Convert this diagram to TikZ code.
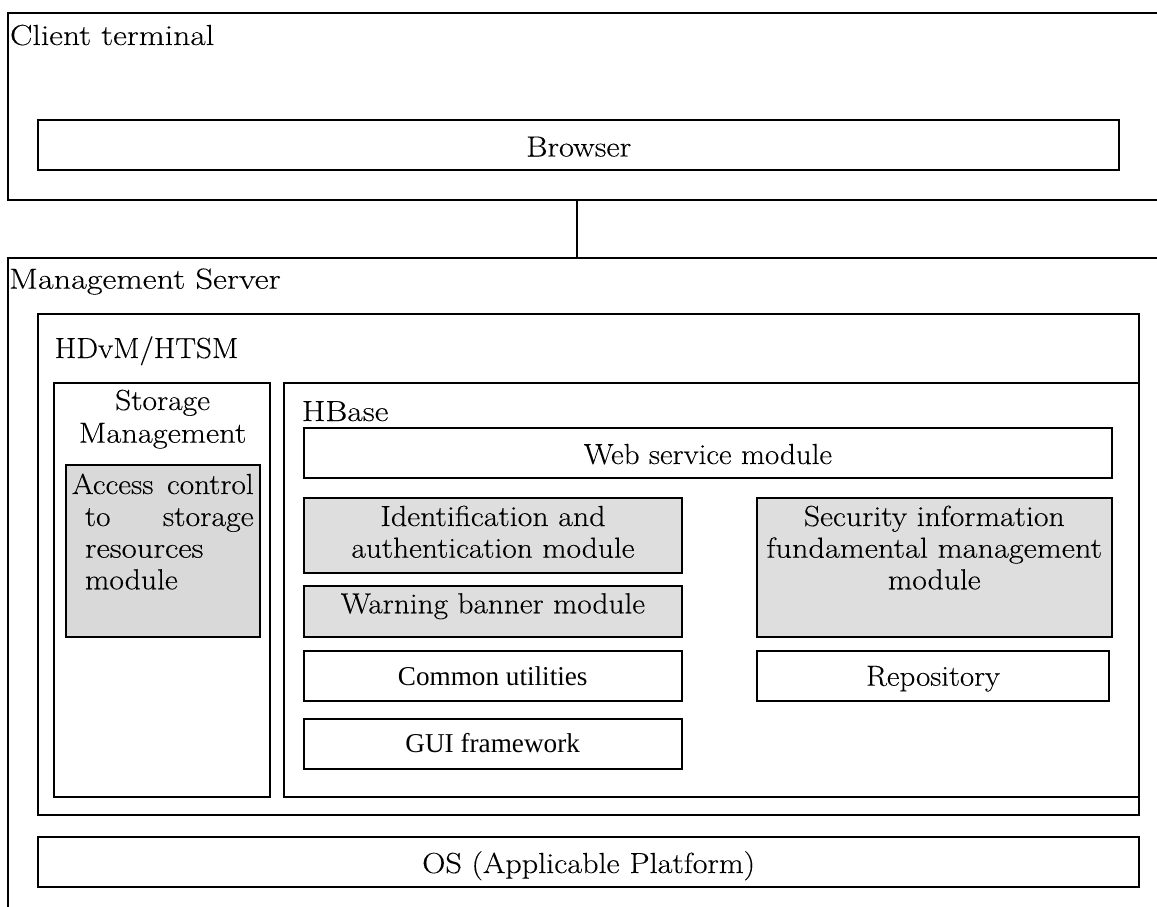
\documentclass[tikz,border=0pt]{standalone}
\usepackage{fontspec}
\newfontfamily\timesfam{Liberation Serif}
\newcommand{\lmfont}[1]{\fontspec{Latin Modern Roman}[FakeStretch=#1,FakeBold=0.25]\fontsize{29}{32}\selectfont}
\tikzset{
  x=1pt,y=-1pt,
  boxw/.style={draw=black,line width=2pt,fill=white,rectangle,inner sep=0pt},
  boxg/.style={boxw,fill=#1},
  lab/.style={inner sep=0pt,outer sep=0pt,anchor=base,font=\lmfont{#1},text=black},
  labl/.style={lab=#1,anchor=base west},
  labr/.style={lab=#1,anchor=base east},
  tim/.style={inner sep=0pt,outer sep=0pt,anchor=base,text=black,font=\timesfam\fontsize{27.2}{32}\selectfont},
  wire/.style={draw=black,line width=2pt},
}
\newcommand{\pbox}[6]{\node[#2,minimum width=#5-#3,minimum height=#6-#4] (#1) at ({(#3+#5)/2},{(#4+#6)/2}) {};}
\begin{document}
\begin{tikzpicture}
\useasboundingbox (0,0) rectangle (1157,907);
% open frames
\coordinate (ctr) at (1157,13.3);
\coordinate (ctl) at (8.4,13.3);
\coordinate (cbl) at (8.4,200);
\coordinate (cbr) at (1157,200);
\coordinate (str) at (1157,257.5);
\coordinate (stl) at (8.4,257.5);
\coordinate (sbl) at (8.4,907);
\coordinate (connA) at (577,200);
\coordinate (connB) at (577,257.5);
\draw[wire] (ctr) -- (ctl) -- (cbl) -- (cbr);
\draw[wire] (str) -- (stl) -- (sbl);
\draw[wire] (connA) -- (connB);
\pbox{browser}{boxw}{37.5}{119.5}{1118.6}{170}
\pbox{hdvm}{boxw}{37.5}{314}{1139}{814.7}
\pbox{storage}{boxw}{54}{383.3}{270}{796.7}
\pbox{hbase}{boxw}{283.6}{383.3}{1139}{796.7}
\pbox{web}{boxw}{304}{428}{1112}{478}
\pbox{access}{boxg={black!15}}{66}{464.7}{259.5}{637.3}
\pbox{ident}{boxg={black!13}}{304}{498.3}{682}{572.7}
\pbox{warn}{boxg={black!13}}{304}{586.3}{682}{636.7}
\pbox{common}{boxw}{304}{650.7}{682}{700.7}
\pbox{gui}{boxw}{304}{718.7}{682}{769}
\pbox{secur}{boxg={black!13}}{757}{498.3}{1112}{636.7}
\pbox{repo}{boxw}{757}{650.7}{1108.7}{700.7}
\pbox{os}{boxw}{37.5}{836.7}{1139}{887}
% labels
\node[labl=1.16] (tClient) at (10,45) {Client terminal};
\node[lab=1.12] (tBrowser) at (578.7,156.5) {Browser};
\node[labl=1.178] (tServer) at (9,288.7) {Management Server};
\node[labl=1.07] (tHdvm) at (54.7,358) {HDvM/HTSM};
\node[lab=1.09] (tStor1) at (162.6,410) {Storage};
\node[lab=1.12] (tStor2) at (162.6,442.7) {Management};
\node[labl=1.16] (tHbase) at (302,421) {HBase};
\node[lab=1.07] (tWeb) at (708,464) {Web service module};
\node[labl=1.08] (tAc1) at (72,494) {Access};
\node[labr=1.08] (tAc2) at (253.7,494) {control};
\node[labl=1.08] (tAc3) at (85,526) {to};
\node[labr=1.10] (tAc4) at (253.7,526) {storage};
\node[labl=1.13] (tAc5) at (85,557.7) {resources};
\node[labl=1.09] (tAc6) at (85,589.3) {module};
\node[lab=1.10] (tId1) at (493,526) {Identification and};
\node[lab=1.084] (tId2) at (493,557.7) {authentication module};
\node[lab=1.08] (tWarn) at (493,613.3) {Warning banner module};
\node[tim] (tCommon) at (492.7,685) {Common utilities};
\node[tim] (tGui) at (492.7,752.7) {GUI framework};
\node[lab=1.096] (tSec1) at (934.3,526) {Security information};
\node[lab=1.115] (tSec2) at (934.3,557.7) {fundamental management};
\node[lab=1.09] (tSec3) at (934.3,589.3) {module};
\node[lab=1.064] (tRepo) at (933,685.7) {Repository};
\node[lab=1.11] (tOs) at (588.7,873) {OS (Applicable Platform)};
\end{tikzpicture}
\end{document}
